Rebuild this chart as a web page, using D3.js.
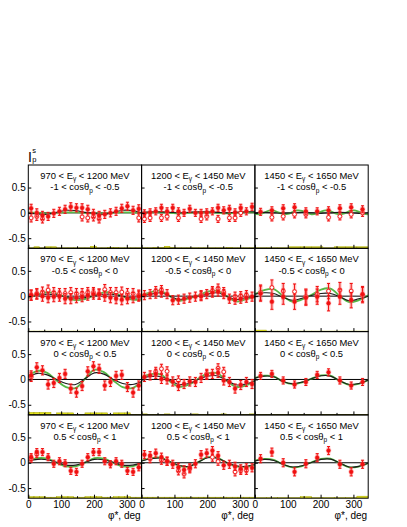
<!DOCTYPE html>
<html><head><meta charset="utf-8">
<script src="https://cdn.jsdelivr.net/npm/d3@7"></script>
<style>
body{margin:0;background:#fff}
svg{display:block;font-family:"Liberation Sans",Arial,Helvetica,sans-serif}
</style>
</head><body>
<svg id="c" width="407" height="527"></svg>
<script>
// ---------------- data ----------------
const energyLow  = ["970", "1200", "1450"];
const energyHigh = ["1200", "1450", "1650"];
const cosLow  = ["-1", "-0.5", "0", "0.5"];
const cosHigh = ["-0.5", "0", "0.5", "1"];
const xTicks = [0, 100, 200, 300];
const xMinorTicks = [50, 150, 250];
const yTicks = [-0.5, 0, 0.5];
const xMax = 345;
const yMin = -0.70, yMax = 0.945;

// panel order: row1 col1..3, row2 col1..3, ...
const filledVals = [
  [0.09,0,-0.05,-0.07,-0.01,0.03,0.07,0.12,0.1,0.1,0.07,-0.01,-0.05,-0.03,0,0.03,0.09,0.13,0.05,0.08],
  [-0.01,0.01,0.03,0.1,0.03,0.1,0.03,0,0.08,0,0,0.01,0.03,0.1,0.05,0.08,0.01,0.1,0.03,0.12],
  [0.02,0.05,0.09,0.11,0.03,0.03,0.05,0.09,0.11,0.07],
  [0.02,0.04,0,-0.03,-0.01,0,-0.05,-0.05,-0.03,-0.01,0.02,0.04,0.04,0,-0.03,-0.05,-0.07,-0.05,-0.03,0],
  [0.02,0.04,0.05,0.07,0.04,-0.08,-0.07,-0.05,-0.03,-0.01,0,0.04,0.07,0.09,0.04,-0.05,-0.07,-0.05,-0.03,-0.01],
  [0.05,-0.11,-0.01,-0.11,-0.03,-0.01,-0.14,-0.01,-0.08,0.04],
  [0.08,0.24,0.18,-0.1,-0.07,0.03,0.11,-0.18,-0.26,-0.13,0.16,0.26,0.21,-0.12,-0.05,0.07,0.09,-0.15,-0.26,-0.12],
  [0.05,0.08,0.11,0.01,0,-0.04,-0.13,-0.09,-0.04,-0.05,0.03,0.09,0.11,0.13,-0.02,-0.05,-0.18,-0.11,-0.05,-0.09],
  [0.07,0.11,-0.02,-0.1,-0.05,0.09,0.14,-0.02,-0.12,-0.05],
  [0.11,0.21,0.21,0.11,-0.02,0.03,-0.01,-0.16,-0.18,-0.02,0.11,0.21,0.21,0.03,-0.03,0.03,-0.02,-0.16,-0.18,-0.09],
  [0.16,0.14,0.19,0.11,0.03,-0.03,-0.09,-0.14,-0.1,-0.02,0.16,0.19,0.24,0.14,-0.05,-0.03,-0.07,-0.12,-0.1,-0.1],
  [0.08,0.21,0,-0.18,-0.02,0.1,0.24,-0.03,-0.18,-0.03]
];
const openVals = [
  [-0.1,-0.07,-0.12,null,null,null,null,null,null,-0.08,-0.1,-0.08,-0.12,null,null,null,null,null,null,-0.1],
  [-0.12,-0.1,null,-0.1,-0.07,null,-0.1,null,null,null,-0.12,-0.07,null,-0.12,null,-0.1,-0.1,0.0,null,null],
  [null,-0.09,-0.07,-0.03,-0.03,null,-0.09,-0.07,-0.03,0.0],
  [0.02,0.05,0.08,0.12,0.07,0.05,0.05,0.07,0.05,0.05,0.07,0.07,0.04,0.13,0.07,0.07,0.08,0.05,0.05,0.02],
  [null,null,0.1,0.12,null,null,null,null,null,null,0.02,null,0.1,0.15,0.08,null,-0.01,0.0,0.02,null],
  [0.07,0.17,0.1,0.09,-0.01,0.04,0.1,0.12,0.1,0.02],
  [0.05,null,null,null,null,null,null,null,null,null,null,null,null,null,null,null,null,null,null,null],
  [null,null,0.15,0.21,0.16,null,-0.02,null,null,null,null,0.11,null,0.22,0.15,null,null,null,null,null],
  [null,null,null,null,null,null,null,null,null,null],
  [0.08,0.17,null,null,null,null,null,null,null,null,null,null,null,null,null,null,null,null,null,null],
  [null,0.08,null,0.05,0.03,null,-0.16,-0.22,-0.12,null,null,null,0.11,0.03,null,null,-0.18,-0.15,-0.15,null],
  [null,null,null,null,null,null,null,null,null,null]
];
const statErr = [0.08,0.07,0.07, 0.1,0.09,0.15, 0.09,0.09,0.07, 0.07,0.08,0.08];

// model curves, samples evenly spaced over phi = 0..345
const blackCurve = [
  [0,-0.02,-0.03,0.01,0.05,0.045,0.01,-0.01,-0.03,0.01,0.05,0.045,0],
  [0.01,0.02,0.02,0.01,0,0.01,0.02,0.02,0.01,0,0.01,0.02,0.02],
  [0,0.01,0,-0.01,0,0.01,0,-0.01,0,0.01,0,-0.01,0],
  [-0.02,0.017,0.04,0.025,-0.012,-0.039,-0.029,0.007,0.037,0.033,-0.002,-0.035,-0.035],
  [0.013,0.04,0.066,0,-0.066,-0.026,0,0.04,0.066,0,-0.066,-0.033,-0.013],
  [0.04,0.066,0.053,-0.026,-0.08,-0.04,0.013,0.053,0.053,-0.013,-0.092,-0.053,0],
  [0.046,0.12,0.09,0,-0.08,-0.1,0.013,0.13,0.105,0,-0.08,-0.1,-0.04],
  [0.026,0.06,0.06,-0.02,-0.1,-0.08,0,0.066,0.072,-0.02,-0.105,-0.092,-0.026],
  [0.026,0.066,0.053,-0.04,-0.085,-0.053,0.013,0.072,0.066,-0.026,-0.1,-0.08,-0.013],
  [0.033,0.066,0.06,0.007,-0.046,-0.046,0.007,0.066,0.06,0.007,-0.046,-0.046,-0.007],
  [0.033,0.08,0.092,0.02,-0.053,-0.072,0.013,0.1,0.092,0.007,-0.06,-0.072,-0.033],
  [0.033,0.066,0.046,-0.033,-0.085,-0.06,0.007,0.066,0.072,-0.007,-0.085,-0.072,-0.007]
];
const greenCurve = [
  [0.01,0,-0.01,0,0.01,0.01,0,-0.01,-0.01,0,0.01,0.01,0],
  [0,0.01,0.01,0,-0.01,0,0.01,0.01,0,-0.01,0,0.01,0.01],
  [-0.02,-0.027,0.006,0.044,0.045,0.009,-0.026,-0.022,0.016,0.048,0.039,0,-0.029,-0.016,0.025,0.05,0.033,-0.009,-0.03,-0.009,0.033,0.05,0.024,-0.016,-0.029],
  [-0.04,0.035,0.08,0.05,-0.025,-0.078,-0.058,0.015,0.075,0.065,-0.004,-0.07,-0.07],
  [0.02,0.08,0.105,0,-0.09,-0.046,0.013,0.09,0.105,0,-0.105,-0.066,-0.013],
  [0.04,0.12,0.14,0,-0.11,-0.066,0.026,0.13,0.15,0,-0.12,-0.08,0.02],
  [0.066,0.17,0.13,-0.02,-0.15,-0.17,0.013,0.19,0.145,-0.02,-0.15,-0.17,-0.05],
  [0.04,0.105,0.1,-0.04,-0.145,-0.105,0.013,0.12,0.125,-0.026,-0.145,-0.12,-0.02],
  [0.03,0.075,0.06,-0.045,-0.09,-0.06,0.015,0.08,0.075,-0.03,-0.105,-0.085,-0.015],
  [0.04,0.09,0.08,0,-0.07,-0.07,0,0.09,0.08,0,-0.07,-0.07,-0.01],
  [0.04,0.09,0.1,0.02,-0.06,-0.08,0.015,0.11,0.1,0,-0.07,-0.08,-0.04],
  [0.04,0.075,0.055,-0.035,-0.09,-0.065,0.01,0.075,0.08,-0.01,-0.09,-0.075,-0.01]
];
// systematic error bars (height above the lower frame, in I units)
const sysBars = [
  [0.01,0.03,0.01,0.03,0.03,0.01,0.01,0.01,0.01,0.01,0.01,0.04,0.01,0.01,0.02,0.02,0.01,0.01,0.01,0.01],
  [0.01,0.01,0.02,0.02,0.04,0.02,0.01,0.01,0.01,0.01,0.01,0.01,0.01,0.01,0.01,0.02,0.01,0.01,0.01,0.01],
  [0.01,0.01,0.01,0.03,0.03,0.03,0.01,0.03,0.03,0.03],
  [0.01,0.01,0.01,0.01,0.01,0.01,0.01,0.01,0.01,0.01,0.01,0.01,0.01,0.01,0.01,0.01,0.01,0.01,0.01,0.01],
  [0.01,0.01,0.01,0.01,0.01,0.01,0.01,0.01,0.01,0.01,0.01,0.01,0.01,0.01,0.01,0.01,0.01,0.01,0.01,0.01],
  [0.03,0.01,0.01,0.01,0.01,0.01,0.01,0.01,0.01,0.01],
  [0.05,0.05,0.05,0.05,0.01,0.04,0.04,0.04,0.01,0.01,0.04,0.04,0.04,0.04,0.01,0.04,0.04,0.04,0.01,0.01],
  [0.02,0.01,0.01,0.01,0.02,0.01,0.01,0.01,0.01,0.02,0.01,0.01,0.01,0.01,0.02,0.01,0.01,0.01,0.01,0.02],
  [0.01,0.01,0.01,0.01,0.01,0.01,0.01,0.01,0.01,0.01],
  [0.03,0.03,0.03,0.02,0.02,0.03,0.03,0.03,0.02,0.02,0.03,0.03,0.03,0.02,0.02,0.03,0.03,0.03,0.02,0.02],
  [0.02,0.02,0.02,0.02,0.02,0.02,0.02,0.02,0.02,0.02,0.02,0.02,0.02,0.02,0.02,0.02,0.02,0.02,0.02,0.02],
  [0.01,0.01,0.01,0.01,0.03,0.01,0.01,0.01,0.01,0.04]
];

// ---------------- layout ----------------
const svg = d3.select("#c");
svg.append("rect").attr("width",407).attr("height",527).attr("fill","#fff");
const L0 = 28.3, T0 = 165, PW = 113.3, PH = 83.3;
const defs = svg.append("defs");

for (let r = 0; r < 4; r++) {
  for (let c = 0; c < 3; c++) {
    const idx = r*3 + c;
    const L = L0 + c*PW, T = T0 + r*PH;
    const x = d3.scaleLinear().domain([0, xMax]).range([L, L+PW]);
    const y = d3.scaleLinear().domain([yMin, yMax]).range([T+PH, T]);
    const g = svg.append("g");
    defs.append("clipPath").attr("id","cp"+idx).append("rect")
      .attr("x",L).attr("y",T).attr("width",PW).attr("height",PH);
    const gc = g.append("g").attr("clip-path","url(#cp"+idx+")");

    // systematic error boxes
    const nb = filledVals[idx].length, bw = xMax/nb;
    gc.selectAll("rect.sys").data(sysBars[idx]).enter().append("rect")
      .attr("x",(d,i)=>x(i*bw)).attr("width",(d,i)=>x((i+1)*bw)-x(i*bw))
      .attr("y",d=>y(yMin+d)).attr("height",d=>y(yMin)-y(yMin+d))
      .attr("fill","#e4e41c").attr("stroke","#a6a600").attr("stroke-width",0.5);

    // zero line
    gc.append("line").attr("x1",L).attr("x2",L+PW).attr("y1",y(0)).attr("y2",y(0))
      .attr("stroke","#000").attr("stroke-width",1);

    // model curves
    const curveLine = arr => d3.line()
      .x((d,i)=>x(i*xMax/(arr.length-1))).y(d=>y(d))
      .curve(d3.curveCatmullRom)(arr);
    gc.append("path").attr("d",curveLine(greenCurve[idx]))
      .attr("fill","none").attr("stroke","#55b847").attr("stroke-width",1.8);
    gc.append("path").attr("d",curveLine(blackCurve[idx]))
      .attr("fill","none").attr("stroke","#1a1a1a").attr("stroke-width",1.1);

    // data points
    const err = statErr[idx];
    const drawPoint = (v, i, open) => {
      if (v === null) return;
      const px = x((i+0.5)*bw), py = y(v);
      const y1 = y(v+err), y2 = y(v-err);
      const ys1 = y(v+err*1.15), ys2 = y(v-err*1.15);
      gc.append("rect").attr("x",px-1.8).attr("width",3.6).attr("y",ys1).attr("height",ys2-ys1)
        .attr("fill","#ff5a5a").attr("opacity",0.3);
      gc.append("line").attr("x1",px).attr("x2",px).attr("y1",y1).attr("y2",y2)
        .attr("stroke","#f01010").attr("stroke-width",1);
      [y1,y2].forEach(yy => gc.append("line").attr("x1",px-1.5).attr("x2",px+1.5)
        .attr("y1",yy).attr("y2",yy).attr("stroke","#f01010").attr("stroke-width",1));
      gc.append("circle").attr("cx",px).attr("cy",py).attr("r",2.8)
        .attr("fill","#ff6a6a").attr("opacity",0.35);
      gc.append("circle").attr("cx",px).attr("cy",py).attr("r",open?1.9:1.9)
        .attr("fill",open?"#fff":"#f01010").attr("stroke","#f01010")
        .attr("stroke-width",open?0.9:0.4);
    };
    openVals[idx].forEach((v,i)=>drawPoint(v,i,true));
    filledVals[idx].forEach((v,i)=>drawPoint(v,i,false));

    // ticks
    const ya = d3.axisLeft(y).tickValues(yTicks).tickSize(-3).tickSizeOuter(0).tickPadding(2.6)
      .tickFormat(d => c===0 ? String(d) : "");
    const yg = g.append("g").attr("transform",`translate(${L},0)`).call(ya);
    yg.select(".domain").remove();
    yg.selectAll("text").attr("font-size",10).attr("font-family","Liberation Sans, Arial, sans-serif").attr("fill","#000");
    yg.selectAll("line").attr("stroke","#000");

    const xa = d3.axisBottom(x).tickValues(xTicks).tickSize(-3.5).tickSizeOuter(0).tickPadding(2.4)
      .tickFormat(d => r===3 ? String(d) : "");
    const xg = g.append("g").attr("transform",`translate(0,${T+PH})`).call(xa);
    xg.select(".domain").remove();
    xg.selectAll("text").attr("font-size",10).attr("font-family","Liberation Sans, Arial, sans-serif").attr("fill","#000");
    xg.selectAll("line").attr("stroke","#000");
    xMinorTicks.forEach(t => g.append("line").attr("x1",x(t)).attr("x2",x(t))
      .attr("y1",T+PH).attr("y2",T+PH-2).attr("stroke","#000").attr("stroke-width",1));

    // frame
    g.append("rect").attr("x",L).attr("y",T).attr("width",PW).attr("height",PH)
      .attr("fill","none").attr("stroke","#000").attr("stroke-width",1);

    // labels
    const t1 = g.append("text").attr("x",L+PW/2).attr("y",T+14)
      .attr("text-anchor","middle").attr("font-size",9.4);
    t1.append("tspan").text(energyLow[c]+" < E");
    t1.append("tspan").attr("font-size",6.5).attr("dy",2.2).text("γ");
    t1.append("tspan").attr("dy",-2.2).text(" < "+energyHigh[c]+" MeV");
    const t2 = g.append("text").attr("x",L+PW/2).attr("y",T+25.3)
      .attr("text-anchor","middle").attr("font-size",9.4);
    t2.append("tspan").text(cosLow[r]+" < cosθ");
    t2.append("tspan").attr("font-size",6.5).attr("dy",2.2).text("p");
    t2.append("tspan").attr("dy",-2.2).text(" < "+cosHigh[r]);

    if (r === 3) {
      g.append("text").attr("x",L+PW-1).attr("y",518.5).attr("text-anchor","end")
        .attr("font-size",10).text("φ*, deg");
    }
  }
}

// y axis title
svg.append("text").attr("x",28).attr("y",162).attr("font-size",14).text("I");
svg.append("text").attr("x",32.3).attr("y",153).attr("font-size",7.5).text("s");
svg.append("text").attr("x",32.3).attr("y",161.8).attr("font-size",7.5).text("p");
</script>
</body></html>
